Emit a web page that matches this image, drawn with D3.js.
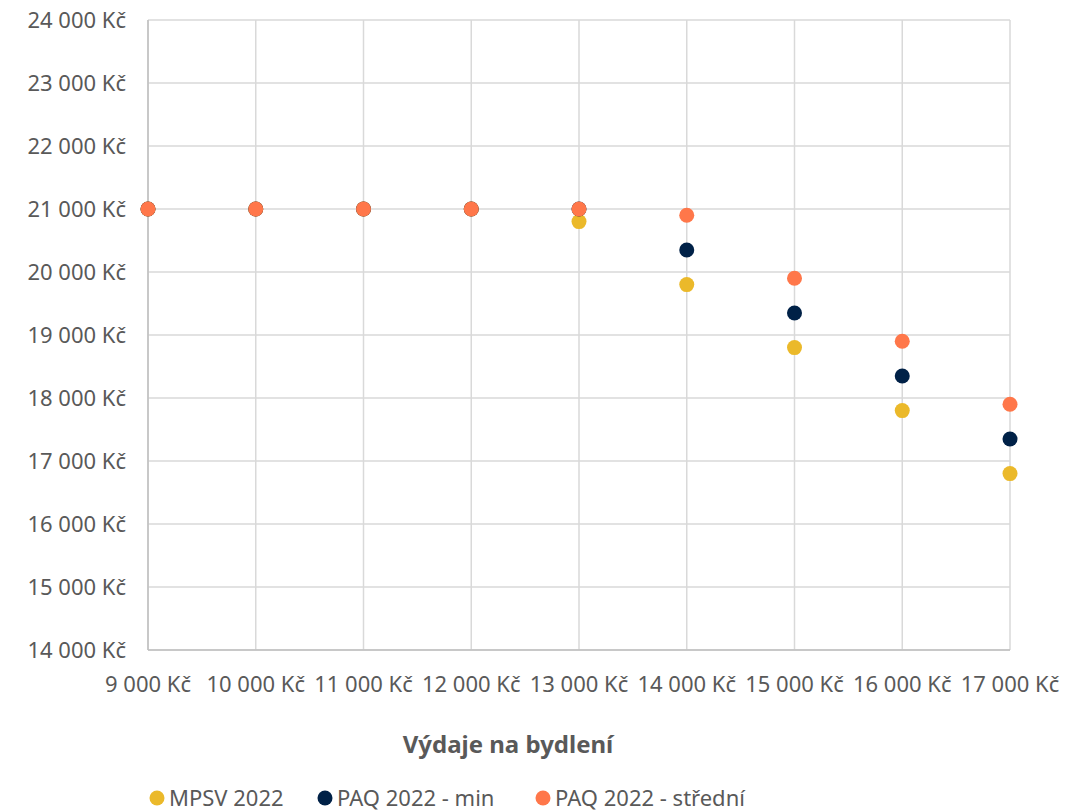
<!DOCTYPE html>
<html><head><meta charset="utf-8">
<script src="https://cdn.jsdelivr.net/npm/d3@7"></script>
<style>body{margin:0;background:#fff;} text{font-family:"Noto Sans","Open Sans",sans-serif;}</style>
</head><body>
<svg id="c" width="1086" height="812"></svg>
<script>
const xValues = [9000,10000,11000,12000,13000,14000,15000,16000,17000];
const mpsv2022 = [21000,21000,21000,21000,20800,19800,18800,17800,16800];
const paqMin = [21000,21000,21000,21000,21000,20350,19350,18350,17350];
const paqStredni = [21000,21000,21000,21000,21000,20900,19900,18900,17900];
const yTicks = [14000,15000,16000,17000,18000,19000,20000,21000,22000,23000,24000];
const seriesNames = ["MPSV 2022","PAQ 2022 - min","PAQ 2022 - střední"];
const seriesColors = ["#EBB92A","#002147","#FF774A"];
const xTitle = "Výdaje na bydlení";

const lab = v => String(v).replace(/\B(?=(\d{3})+(?!\d))/g, " ") + " Kč";

const svg = d3.select("#c");
const x = d3.scaleLinear().domain([9000,17000]).range([148,1010]);
const y = d3.scaleLinear().domain([14000,24000]).range([650,20]);
const grid = "#d9d9d9", txt = "#595959";

const g = svg.append("g");
g.selectAll(".vg").data(xValues).join("line")
  .attr("x1",d=>x(d)).attr("x2",d=>x(d)).attr("y1",y(24000)).attr("y2",y(14000))
  .attr("stroke",grid).attr("stroke-width",1.5);
g.selectAll(".hg").data(yTicks).join("line")
  .attr("x1",x(9000)).attr("x2",x(17000)).attr("y1",d=>y(d)).attr("y2",d=>y(d))
  .attr("stroke",grid).attr("stroke-width",1.5);
g.append("line").attr("x1",x(9000)).attr("x2",x(9000)).attr("y1",y(24000)).attr("y2",y(14000)).attr("stroke","#bfbfbf").attr("stroke-width",1.5);
g.append("line").attr("x1",x(9000)).attr("x2",x(17000)).attr("y1",y(14000)).attr("y2",y(14000)).attr("stroke","#bfbfbf").attr("stroke-width",1.5);

svg.selectAll(".yl").data(yTicks).join("text")
  .attr("x",126).attr("y",d=>y(d)).attr("dy","0.35em").attr("text-anchor","end")
  .attr("font-size",22).attr("fill",txt).text(lab);
svg.selectAll(".xl").data(xValues).join("text")
  .attr("x",d=>x(d)).attr("y",684).attr("dy","0.35em").attr("text-anchor","middle")
  .attr("font-size",22).attr("fill",txt).text(lab);
svg.append("text").attr("x",508).attr("y",745).attr("dy","0.35em").attr("text-anchor","middle")
  .attr("font-size",24).attr("font-weight","bold").attr("fill",txt).text(xTitle);

const all = [mpsv2022, paqMin, paqStredni];
all.forEach((vals,i)=>{
  svg.append("g").selectAll("circle").data(vals).join("circle")
    .attr("cx",(d,j)=>x(xValues[j])).attr("cy",d=>y(d)).attr("r",7.5)
    .attr("fill",seriesColors[i]);
});

const legX = [157,325,543];
const leg = svg.append("g");
seriesNames.forEach((n,i)=>{
  leg.append("circle").attr("cx",legX[i]).attr("cy",798).attr("r",7.5).attr("fill",seriesColors[i]);
  leg.append("text").attr("x",legX[i]+12).attr("y",798).attr("dy","0.35em").attr("font-size",22).attr("fill",txt).text(n);
});
</script>
</body></html>
